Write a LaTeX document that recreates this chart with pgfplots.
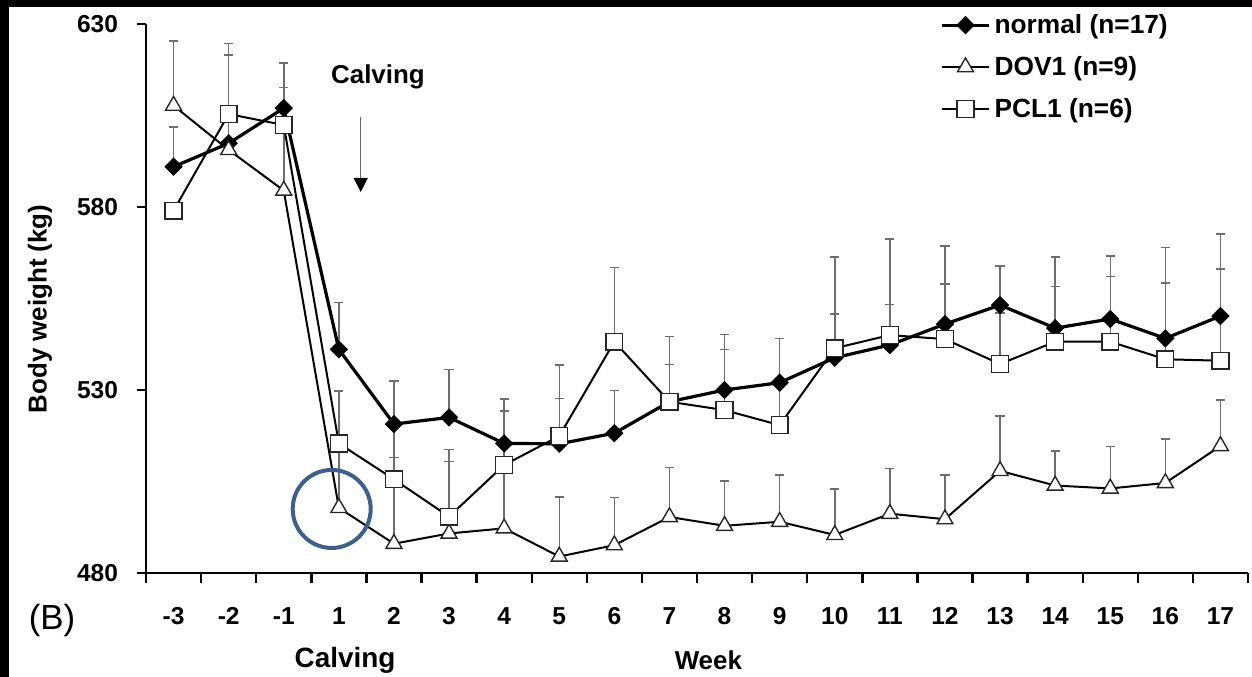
\documentclass[border=0pt]{standalone}
\usepackage{pgfplots}
\usepackage{pgfplotstable}
\pgfplotsset{compat=1.18}
\usepackage{fontspec}
\setmainfont{Liberation Sans}
\usetikzlibrary{arrows.meta}
\definecolor{circblue}{RGB}{60,95,140}
\definecolor{errgray}{RGB}{110,110,110}

\pgfplotstableread{
x y e
0 591.0 10.8
1 597.4 24.1
2 607.0 12.3
3 541.1 12.8
4 520.7 11.8
5 522.5 13.1
6 515.4 12.1
7 515.3 12.4
8 518.2 11.6
9 526.8 10.2
10 530.0 11.1
11 532.0 12.1
12 538.8 11.9
13 542.3 11.1
14 548.0 10.9
15 553.2 10.7
16 546.9 11.4
17 549.4 11.6
18 544.1 15.2
19 550.2 12.9
}\normaldata

\pgfplotstableread{
x y e
0 607.7 17.7
1 595.6 2.0
2 584.5 18.0
3 497.8 17.6
4 488.0 23.6
5 490.8 19.6
6 492.2 17.0
7 484.5 16.2
8 487.6 13.0
9 495.3 13.5
10 492.9 12.3
11 494.0 12.8
12 490.4 12.5
13 496.2 12.4
14 494.7 12.1
15 507.9 15.0
16 503.9 9.5
17 503.1 11.4
18 504.6 12.0
19 514.7 12.6
}\dovdata

\pgfplotstableread{
x y e
0 579.0 2.0
1 605.4 19.3
2 602.4 10.2
3 515.4 14.3
4 505.6 15.0
5 495.4 18.4
6 509.5 14.8
7 517.4 19.4
8 543.2 20.3
9 526.8 17.8
10 524.5 20.7
11 520.4 12.0
12 541.4 25.0
13 545.0 26.3
14 543.9 25.5
15 537.1 14.0
16 543.2 23.2
17 543.2 23.4
18 538.4 30.6
19 538.0 34.6
}\pcldata

\begin{document}
\begin{tikzpicture}
\useasboundingbox (0,0) rectangle (626bp,338.5bp);
\fill[black] (0,335bp) rectangle (626bp,338.5bp);
\fill[black] (0,0) rectangle (4.5bp,338.5bp);
\begin{axis}[
  at={(73bp,52bp)}, anchor=south west,
  scale only axis, width=551bp, height=274.5bp,
  xmin=-0.5, xmax=19.5, ymin=480, ymax=630,
  axis x line*=bottom, axis y line*=left,
  axis line style={line width=1.2bp, black},
  tick align=outside,
  xtick={0,...,19},
  xticklabels={-3,-2,-1,1,2,3,4,5,6,7,8,9,10,11,12,13,14,15,16,17},
  major x tick style={draw=none},
  minor xtick={-0.5,0.5,...,19.5},
  minor tick length=5bp,
  major tick length=4.5bp,
  every tick/.append style={line width=1.2bp, black},
  every minor tick/.append style={line width=1.2bp, black},
  ytick={480,530,580,630},
  /pgf/number format/assume math mode=true,
  ticklabel style={font=\bfseries\fontsize{12.3}{14}\selectfont},
  yticklabel style={xshift=-6bp},
  xticklabel style={anchor=north, text height=8.8bp, text depth=0pt, inner sep=0pt, yshift=-12bp},
  xlabel={Week},
  xlabel style={at={(axis description cs:0.5103,0)}, anchor=center, yshift=-43.5bp, font=\bfseries\fontsize{13}{15}\selectfont},
  ylabel={Body weight (kg)},
  ylabel style={at={(axis description cs:-0.0962,0.481)}, anchor=center, font=\bfseries\fontsize{13}{15}\selectfont},
  clip=false,
  legend style={at={(0.7205,1.026)}, anchor=north west, draw=none, fill=none, inner sep=0pt,
    font=\bfseries\fontsize{13.2}{15}\selectfont, row sep=6bp,
    /tikz/every even column/.append style={column sep=3bp}},
  legend cell align=left,
  legend image code/.code={\draw[mark repeat=2,mark phase=2,#1] plot coordinates {(0bp,0bp) (11.75bp,0bp) (23.5bp,0bp)};},
  errstyle/.style={forget plot, draw=none, mark=none,
    error bars/.cd, y dir=plus, y explicit,
    error bar style={draw=errgray, line width=0.75bp},
    error mark options={rotate=90, mark size=2.3bp, draw=errgray, line width=0.75bp}},
]
\addplot[errstyle] table[x=x, y=y, y error=e] {\pcldata};
\addplot[errstyle] table[x=x, y=y, y error=e] {\dovdata};
\addplot[errstyle] table[x=x, y=y, y error=e] {\normaldata};

\addplot[black, line width=1.6bp, mark=square*, mark size=3.0bp,
  mark options={rotate=45, fill=black, line width=0.5bp}] table[x=x, y=y] {\normaldata};
\addlegendentry{normal (n=17)}
\addplot[black, line width=1bp, mark=triangle*, mark size=4.6bp,
  mark options={fill=white, draw=black!85, line width=0.7bp}] table[x=x, y=y] {\dovdata};
\addlegendentry{DOV1 (n=9)}
\addplot[black, line width=1bp, mark=square*, mark size=4.2bp,
  mark options={fill=white, draw=black!85, line width=0.7bp}] table[x=x, y=y] {\pcldata};
\addlegendentry{PCL1 (n=6)}

\node[font=\bfseries\fontsize{13}{15}\selectfont] at (axis cs:3.71,615.5) {Calving};
\draw[black!60, line width=0.6bp, -{Triangle[length=7bp,width=7bp,color=black]}] (axis cs:3.397,604.7) -- (axis cs:3.397,584.1);
\node[font=\bfseries\fontsize{14}{16}\selectfont] at ([yshift=-43.5bp]rel axis cs:0.1806,0) {Calving};
\draw[circblue, line width=2bp] (axis cs:2.87,497.5) circle[radius=19.5bp];
\end{axis}
\node[font=\fontsize{17.5}{19}\selectfont] at (26bp,28.5bp) {(B)};
\end{tikzpicture}
\end{document}
